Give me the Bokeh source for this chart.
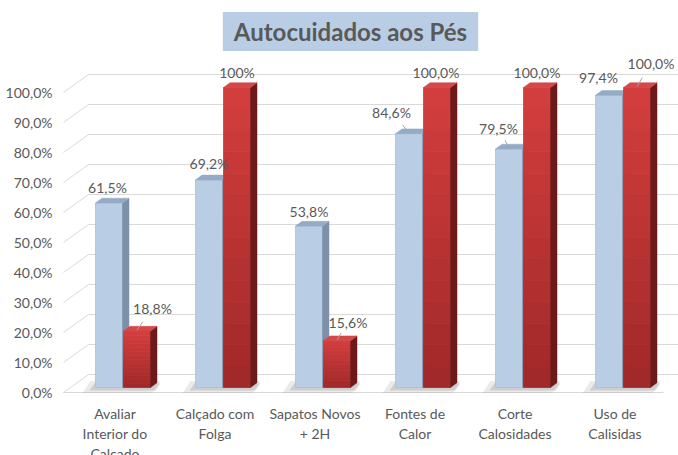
import numpy as np
from bokeh.plotting import figure
from bokeh.models import ColumnDataSource, Label, FixedTicker, Range1d
from bokeh.core.properties import value
from bokeh.embed import file_html
from bokeh.resources import INLINE

# ---------------- data ----------------
title_text = "Autocuidados aos Pés"
categories = ["Avaliar\nInterior do\nCalçado", "Calçado com\nFolga", "Sapatos Novos\n+ 2H",
              "Fontes de\nCalor", "Corte\nCalosidades", "Uso de\nCalisidas"]
series_blue = [61.5, 69.2, 53.8, 84.6, 79.5, 97.4]
series_red = [18.8, 100.0, 15.6, 100.0, 100.0, 100.0]
labels_blue = ["61,5%", "69,2%", "53,8%", "84,6%", "79,5%", "97,4%"]
labels_red = ["18,8%", "100%", "15,6%", "100,0%", "100,0%", "100,0%"]
y_ticks = [0, 10, 20, 30, 40, 50, 60, 70, 80, 90, 100]
y_tick_labels = ["0,0%", "10,0%", "20,0%", "30,0%", "40,0%", "50,0%",
                 "60,0%", "70,0%", "80,0%", "90,0%", "100,0%"]

# ---------------- style / geometry ----------------
W, H = 678, 455
LEFT = 60
PXX = 1 / 100.0   # data units per pixel (x)
PXY = 1 / 3.0     # data units per pixel (y)
FLOOR_DX, FLOOR_DY = 0.25, 6.0      # depth of floor
FX, FY = 0.07, 5 * PXY              # bar front-face depth shift
BW = 0.27
SDX, SDY = 0.065, 1.6               # bar depth
TXT = "#595959"
FONT = "Lato"
# label nudges (px, x right / y down) relative to bar front-top centre
nudge_blue = [(-1.5, -15.5), (0, -16), (0, -15), (-17.5, -21), (-10.5, -20.5), (-10.5, -18)]
nudge_red = [(15.5, -22.6), (0, -15), (11, -18), (-1, -15), (0, -15), (14, -24)]
leader_blue = [False, False, False, True, True, False]
leader_red = [True, False, True, False, False, True]

n = len(categories)
idx = np.arange(n, dtype=float)
blue = np.array(series_blue)
red = np.array(series_red)

x_start = -0.53
x_end = x_start + (W - LEFT) * PXX
y_end = 392 * PXY
y_start = y_end - H * PXY

p = figure(width=W, height=H, x_range=Range1d(x_start, x_end), y_range=Range1d(y_start, y_end),
           output_backend="svg", toolbar_location=None, x_axis_location=None,
           min_border_left=LEFT, min_border_right=0, min_border_top=0, min_border_bottom=0)
p.outline_line_color = None
p.xgrid.visible = False
p.ygrid.visible = False
p.background_fill_color = "white"
p.border_fill_color = "white"

# y axis
ya = p.yaxis[0]
ya.ticker = FixedTicker(ticks=y_ticks)
ya.major_label_overrides = {t: l for t, l in zip(y_ticks, y_tick_labels)}
ya.axis_line_color = None
ya.major_tick_line_color = None
ya.minor_tick_line_color = None
ya.major_tick_out = 0
ya.major_tick_in = 0
ya.major_label_standoff = 8
ya.major_label_text_color = TXT
ya.major_label_text_font = FONT
ya.major_label_text_font_size = "14px"

# floor
x0, x1 = -0.5, n - 0.5
p.patch([x0, x1, x1 + FLOOR_DX, x0 + FLOOR_DX], [0, 0, FLOOR_DY, FLOOR_DY],
        fill_color="white", line_color=None)
p.line([x0, x1], [0, 0], line_color="#D9D9D9", line_width=1.2)
# back wall gridlines + left side wall diagonals
gx = [[x0, x0 + FLOOR_DX, x1 + FLOOR_DX + 1] for t in y_ticks]
gy = [[t, t + FLOOR_DY, t + FLOOR_DY] for t in y_ticks]
p.multi_line(gx, gy, line_color="#D9D9D9", line_width=1)

blue_l = idx - 0.25 + FX
blue_r = blue_l + BW
red_l = idx + 0.03 + FX
red_r = red_l + BW
base = FY

# soft shadows on floor
sh_xs = [[bl - 0.13, rr + 0.02, rr + 0.02 + 0.08, bl - 0.13 + 0.08] for bl, rr in zip(blue_l, red_r)]
sh_ys = [[base - 1.8, base - 1.8, base + 2.2, base + 2.2] for _ in idx]
p.patches(sh_xs, sh_ys, fill_color="#7F7F7F", fill_alpha=0.16, line_color=None)
sh_xs2 = [[bl - 0.06, rr + 0.05, rr + 0.05 + 0.05, bl - 0.06 + 0.05] for bl, rr in zip(blue_l, red_r)]
sh_ys2 = [[base - 1.0, base - 1.0, base + 1.4, base + 1.4] for _ in idx]
p.patches(sh_xs2, sh_ys2, fill_color="#606060", fill_alpha=0.2, line_color=None)


def side_top(l, r, top):
    sx = [[rr, rr + SDX, rr + SDX, rr] for rr in r]
    sy = [[base, base + SDY, t + SDY, t] for t in top]
    tx = [[ll, rr, rr + SDX, ll + SDX] for ll, rr in zip(l, r)]
    ty = [[t, t, t + SDY, t + SDY] for t in top]
    return sx, sy, tx, ty


# blue bars
btop = base + blue
p.quad(left=blue_l, right=blue_r, bottom=base, top=btop, fill_color="#B9CDE5",
       line_color="#A9BFDC", line_width=0.8)
sx, sy, tx, ty = side_top(blue_l, blue_r, btop)
p.patches(sx, sy, fill_color="#7D90A9", line_color="#7D90A9", line_width=0.5)
p.patches(tx, ty, fill_color="#94AAC5", line_color="#94AAC5", line_width=0.5)

# red bars with vertical gradient
rtop = base + red
NS = 14
c_bot = np.array([0xA0, 0x28, 0x28])
c_top = np.array([0xD4, 0x3E, 0x3E])
ql, qr, qb, qt, qc = [], [], [], [], []
for i in range(n):
    h = red[i]
    for k in range(NS):
        f = (k + 0.5) / NS
        col = c_bot + (c_top - c_bot) * f
        ql.append(red_l[i]); qr.append(red_r[i])
        qb.append(base + h * k / NS)
        qt.append(base + h * (k + 1) / NS)
        qc.append("#%02x%02x%02x" % tuple(int(round(c)) for c in col))
p.quad(left=ql, right=qr, bottom=qb, top=qt, fill_color=qc, line_color=qc, line_width=0.8)
sx, sy, tx, ty = side_top(red_l, red_r, rtop)
p.patches(sx, sy, fill_color="#6E1A1A", line_color="#6E1A1A", line_width=0.5)
p.patches(tx, ty, fill_color="#D54848", line_color="#D54848", line_width=0.5)


# data labels
def labels(l, r, top, texts, nudges, leaders):
    cx = (np.array(l) + np.array(r)) / 2
    lx = [c + dx * PXX for c, (dx, dy) in zip(cx, nudges)]
    ly = [t - dy * PXY for t, (dx, dy) in zip(top, nudges)]
    p.text(x=lx, y=ly, text=texts, text_align="center", text_baseline="middle",
           text_color=TXT, text_font=value(FONT), text_font_size="14px")
    lxs, lys = [], []
    for i in range(len(texts)):
        if leaders[i]:
            f = 0.38
            lxs.append([cx[i], cx[i] + f * (lx[i] - cx[i])])
            lys.append([top[i] + 0.3, top[i] + 0.3 + f * (ly[i] - top[i])])
    if lxs:
        p.multi_line(lxs, lys, line_color="#A6A6A6", line_width=1)


labels(blue_l, blue_r, btop, labels_blue, nudge_blue, leader_blue)
labels(red_l, red_r, rtop, labels_red, nudge_red, leader_red)

# category labels
p.text(x=idx + 0.015, y=np.full(n, -4.0), text=categories, text_align="center",
       text_baseline="top", text_color=TXT, text_font=value(FONT), text_font_size="14px",
       text_line_height=1.2)

# title box
p.add_layout(Label(x=350 - LEFT, y=H - 31, x_units="screen", y_units="screen", text=title_text,
                   text_align="center", text_baseline="middle", text_color=TXT,
                   text_font=FONT, text_font_size="24px", text_font_style="bold",
                   background_fill_color="#B9CDE5",
                   padding=dict(left=11, right=11, top=5, bottom=5)))

open("out.html", "w").write(file_html(p, INLINE))
